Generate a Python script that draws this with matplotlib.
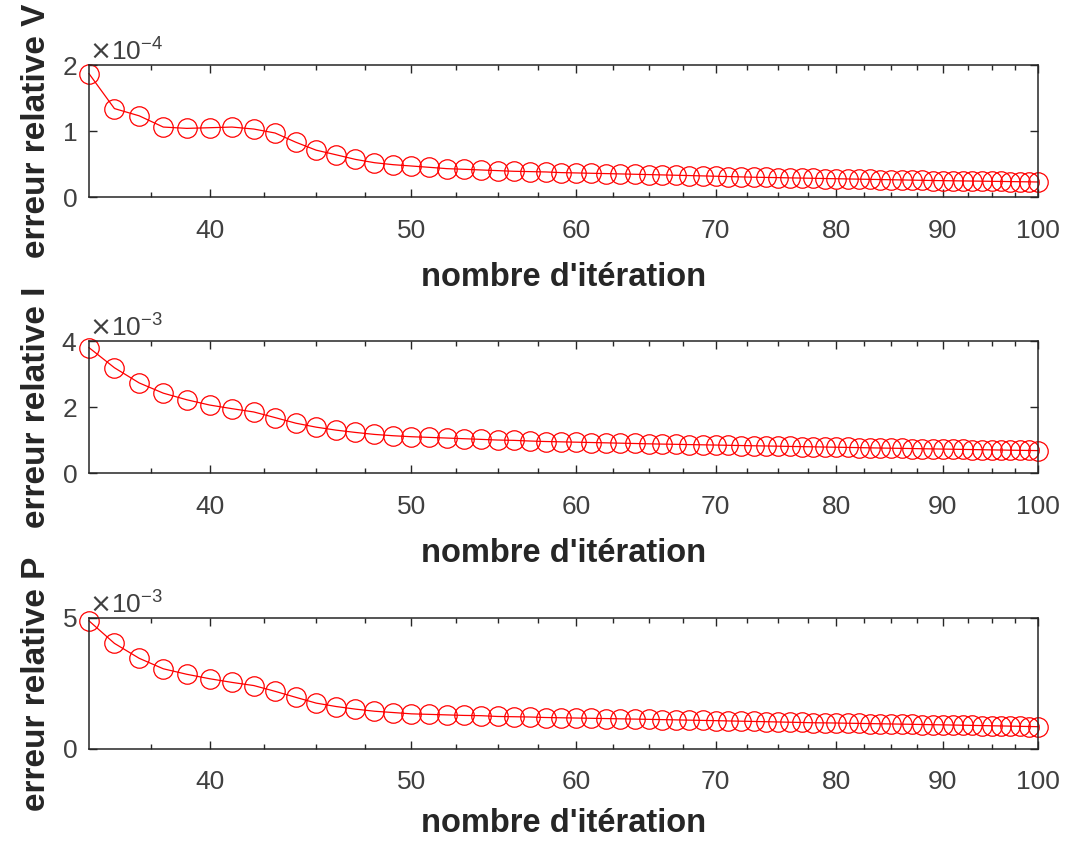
import numpy as np
import matplotlib
matplotlib.use("Agg")
import matplotlib.pyplot as plt
from matplotlib.ticker import FixedLocator, FixedFormatter, ScalarFormatter, NullFormatter

plt.rcParams['font.family'] = ['Liberation Sans', 'DejaVu Sans']

iterations = list(range(35, 101))

err_V = [1.87, 1.34, 1.23, 1.06, 1.04, 1.05, 1.06, 1.03, 0.97, 0.83, 0.71, 0.64, 0.57, 0.52,
         0.49, 0.47, 0.45, 0.43, 0.42, 0.41, 0.40, 0.39, 0.385,
         0.38, 0.37, 0.365, 0.36, 0.355, 0.35, 0.345, 0.34, 0.335, 0.33, 0.325, 0.32, 0.315,
         0.31, 0.305, 0.30, 0.297, 0.294, 0.29, 0.287, 0.284, 0.28, 0.277, 0.274, 0.271,
         0.268, 0.265, 0.262, 0.259, 0.256, 0.253, 0.25, 0.248, 0.246, 0.244, 0.242, 0.24,
         0.238, 0.236, 0.234, 0.232, 0.23, 0.228]
err_I = [3.80, 3.19, 2.73, 2.42, 2.22, 2.06, 1.95, 1.85, 1.68, 1.51, 1.39, 1.30, 1.23, 1.17,
         1.13, 1.10, 1.08, 1.06, 1.04, 1.02, 1.00, 0.99, 0.97,
         0.955, 0.945, 0.935, 0.925, 0.915, 0.905, 0.895, 0.885, 0.877, 0.87, 0.862, 0.855,
         0.848, 0.84, 0.833, 0.826, 0.82, 0.813, 0.806, 0.80, 0.794, 0.788, 0.782, 0.776,
         0.77, 0.764, 0.758, 0.752, 0.747, 0.742, 0.736, 0.731, 0.726, 0.721, 0.716, 0.711,
         0.706, 0.701, 0.697, 0.692, 0.688, 0.684, 0.68]
err_P = [4.89, 4.03, 3.46, 3.06, 2.85, 2.68, 2.54, 2.42, 2.20, 1.97, 1.75, 1.62, 1.52, 1.44,
         1.39, 1.34, 1.32, 1.30, 1.28, 1.27, 1.24, 1.23, 1.22,
         1.20, 1.19, 1.18, 1.17, 1.16, 1.15, 1.14, 1.13, 1.12, 1.11, 1.10, 1.09, 1.08, 1.07,
         1.06, 1.05, 1.04, 1.03, 1.02, 1.01, 1.00, 0.995, 0.99, 0.982, 0.975, 0.968, 0.961,
         0.954, 0.947, 0.94, 0.933, 0.926, 0.92, 0.913, 0.906, 0.899, 0.892, 0.885, 0.878,
         0.871, 0.864, 0.857, 0.85]

scales = [1e-4, 1e-3, 1e-3]
series = [err_V, err_I, err_P]
ylabels = ["erreur relative V", "erreur relative I", "erreur relative P"]
ylims = [2e-4, 4e-3, 5e-3]
yticks = [[0, 1e-4, 2e-4], [0, 2e-3, 4e-3], [0, 5e-3]]
xmajor = [40, 50, 60, 70, 80, 90, 100]
xminor = [37.5, 42.5, 45, 47.5, 52.5, 55, 57.5, 62.5, 65, 67.5, 72.5, 75, 77.5,
          82.5, 85, 87.5, 92.5, 95, 97.5]
xlabel = "nombre d'itération"

fig = plt.figure(figsize=(10.73, 8.42), dpi=100)
rects = [[0.0829, 0.766, 0.8845, 0.1568],
         [0.0829, 0.4382, 0.8845, 0.1568],
         [0.0829, 0.1105, 0.8845, 0.1556]]
xlabelpads = [14, 14, 10]
gray = '#262626'
tgray = '#404040'
for k in range(3):
    ax = fig.add_axes(rects[k])
    vals = np.array(series[k]) * scales[k]
    ax.plot(iterations, vals, color='red', lw=0.9, marker='o', ms=14,
            mfc='none', mec='red', mew=0.9, clip_on=False)
    ax.set_xscale('log')
    ax.set_xlim(35, 100)
    ax.set_ylim(0, ylims[k])
    ax.xaxis.set_major_locator(FixedLocator(xmajor))
    ax.xaxis.set_minor_locator(FixedLocator(xminor))
    ax.xaxis.set_major_formatter(FixedFormatter([str(v) for v in xmajor]))
    ax.xaxis.set_minor_formatter(NullFormatter())
    ax.set_yticks(yticks[k])
    fmt = ScalarFormatter(useMathText=True)
    fmt.set_powerlimits((0, 0))
    ax.yaxis.set_major_formatter(fmt)
    ax.yaxis.get_offset_text().set_fontsize(19)
    ax.yaxis.get_offset_text().set_color(tgray)
    ax.tick_params(which='both', direction='in', top=True, right=True,
                   colors=gray, labelcolor=tgray, labelsize=19)
    ax.tick_params(which='major', length=6, width=1)
    ax.tick_params(which='minor', length=3.5, width=1)
    ax.tick_params(axis='x', which='major', pad=15.5)
    ax.tick_params(axis='y', which='major', pad=8.5)
    for s in ax.spines.values():
        s.set_color(gray)
        s.set_linewidth(1.1)
    ax.set_xlabel(xlabel, fontsize=23.5, fontweight='bold', color=gray,
                  labelpad=xlabelpads[k])
    ax.set_ylabel(ylabels[k], fontsize=24, fontweight='bold', color=gray, labelpad=7)

fig.savefig("out.png", dpi=100)
